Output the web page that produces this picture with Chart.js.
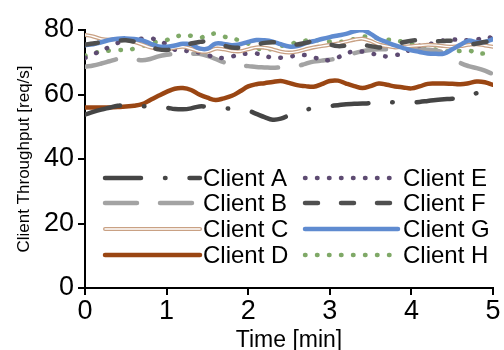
<!DOCTYPE html>
<html>
<head>
<meta charset="utf-8">
<script src="https://cdn.jsdelivr.net/npm/chart.js@4.4.1/dist/chart.umd.min.js"></script>
<style>
  html, body { margin: 0; padding: 0; background: #fff; }
  #wrap { width: 504px; height: 350px; }
</style>
</head>
<body>
<div id="wrap"><canvas id="myChart" width="504" height="350"></canvas></div>
<script>
// Chart data
const minutes = [0, 0.1, 0.2, 0.3, 0.4, 0.5, 0.6, 0.7, 0.8, 0.9,
  1, 1.1, 1.2, 1.3, 1.4, 1.5, 1.6, 1.7, 1.8, 1.9,
  2, 2.1, 2.2, 2.3, 2.4, 2.5, 2.6, 2.7, 2.8, 2.9,
  3, 3.1, 3.2, 3.3, 3.4, 3.5, 3.6, 3.7, 3.8, 3.9,
  4, 4.1, 4.2, 4.3, 4.4, 4.5, 4.6, 4.7, 4.8, 4.9, 5];

const clientA = [53.8, 54.6, 55.3, 55.9, 56.5, 56.7, 56.6, 56.4, 56.2, 56.0,
  55.9, 55.5, 55.4, 55.7, 56.3, 56.2, 55.9, 55.7, 55.6, 55.5,
  55.0, 54.0, 53.0, 52.2, 52.5, 53.6, 54.8, 55.3, 55.7, 56.0,
  56.4, 56.7, 57.0, 57.1, 57.2, 57.4, 57.9, 57.8, 57.5, 57.4,
  57.5, 57.7, 58.0, 58.3, 58.5, 58.7, 59.0, 59.6, 60.4, 60.5, 60.0];
const clientB = [68.6, 69.0, 69.6, 70.3, 71.0, 71.2, 71.0, 70.6, 71.0, 71.8,
  72.3, 72.6, 72.6, 72.6, 72.6, 72.0, 71.0, 70.0, 69.3, 69.0,
  68.8, 68.5, 68.4, 68.3, 68.4, 68.5, 68.8, 69.5, 70.2, 70.5,
  70.8, 71.2, 72.0, 72.8, 73.4, 73.8, 74.0, 74.0, 74.0, 74.0,
  74.0, 74.0, 73.9, 73.6, 72.9, 71.5, 69.8, 68.8, 68.2, 67.4, 66.3];
const clientC = [78.5, 78.0, 77.2, 77.0, 77.2, 77.0, 76.3, 75.5, 74.6, 74.2,
  74.0, 74.5, 74.8, 74.2, 73.4, 73.3, 74.2, 74.0, 73.5, 73.4,
  74.0, 74.6, 74.5, 74.0, 73.3, 73.0, 73.3, 74.0, 74.6, 75.0,
  75.4, 75.8, 76.4, 77.0, 77.3, 76.6, 75.5, 75.0, 74.6, 74.8,
  75.0, 75.2, 75.4, 75.3, 75.0, 74.8, 75.0, 75.4, 75.6, 75.2, 74.8];
const clientD = [56.0, 56.0, 56.0, 56.0, 56.1, 56.3, 56.5, 57.0, 58.3, 59.6,
  60.8, 61.8, 62.0, 61.4, 60.0, 59.0, 58.3, 58.8, 59.6, 61.0,
  62.5, 63.2, 63.5, 63.9, 64.2, 63.6, 62.9, 62.6, 62.4, 63.2,
  64.2, 64.3, 63.4, 62.6, 62.0, 62.6, 63.4, 63.0, 62.5, 62.2,
  61.9, 62.5, 63.3, 63.4, 63.4, 63.3, 63.2, 63.5, 64.0, 63.8, 63.0];
const clientE = [71.3, 72.5, 73.5, 74.8, 76.0, 76.8, 77.0, 77.3, 77.4, 76.8,
  75.5, 73.9, 73.6, 73.4, 73.0, 72.2, 71.6, 71.3, 71.8, 72.4,
  72.7, 72.7, 72.0, 71.4, 71.4, 71.7, 72.1, 72.2, 71.6, 70.7,
  70.7, 71.5, 72.8, 73.3, 73.3, 72.8, 72.2, 71.8, 72.2, 72.7,
  74.2, 75.1, 75.5, 76.1, 76.8, 77.0, 77.0, 76.8, 77.0, 77.8, 77.5];
const clientF = [75.5, 75.8, 76.2, 76.5, 76.7, 76.8, 76.4, 75.6, 74.8, 74.0,
  73.8, 74.2, 75.0, 75.8, 76.3, 76.5, 76.2, 75.2, 74.6, 74.5,
  74.8, 75.4, 76.0, 76.2, 76.0, 75.6, 75.5, 76.0, 76.6, 76.6,
  75.6, 75.0, 75.2, 75.6, 75.4, 75.0, 74.6, 74.6, 75.2, 76.2,
  76.7, 76.8, 76.6, 76.5, 76.6, 76.6, 76.0, 75.6, 75.8, 76.3, 76.5];
const clientG = [75.3, 75.6, 76.2, 76.9, 77.3, 77.4, 77.2, 76.8, 75.8, 74.9,
  74.8, 75.2, 75.7, 75.6, 74.3, 74.2, 75.8, 75.7, 75.3, 75.6,
  76.3, 76.9, 76.8, 76.4, 75.6, 74.9, 75.0, 75.9, 76.5, 77.2,
  77.8, 78.3, 78.8, 79.6, 80.0, 78.8, 77.2, 76.2, 75.2, 74.4,
  73.7, 73.2, 72.7, 72.6, 72.7, 74.0, 75.4, 76.7, 76.2, 76.3, 77.2];
const clientH = [72.0, 72.8, 73.3, 73.6, 73.8, 73.8, 74.2, 75.0, 75.8, 76.5,
  76.9, 77.8, 78.4, 78.2, 77.6, 78.3, 78.9, 78.0, 77.3, 76.8,
  75.8, 74.5, 73.8, 74.2, 75.0, 75.6, 76.2, 76.7, 76.9, 76.7,
  76.4, 76.3, 76.6, 77.2, 77.9, 77.8, 77.4, 77.0, 76.8, 76.3,
  75.6, 75.0, 74.4, 73.9, 73.5, 73.3, 73.5, 73.7, 72.8, 72.7, 72.8];

const xTicks = [0, 1, 2, 3, 4, 5];
const yTicks = [0, 20, 40, 60, 80];

const FONT = "'Liberation Sans', Arial, Helvetica, sans-serif";

function pts(arr) {
  return minutes.map((m, i) => ({ x: m, y: arr[i] }));
}

function series(label, arr, color, width, dash, order, extra) {
  return Object.assign({
    type: 'line',
    label: label,
    data: pts(arr),
    borderColor: color,
    borderWidth: width,
    borderDash: dash,
    borderCapStyle: 'round',
    borderJoinStyle: 'round',
    pointRadius: 0,
    tension: 0.4,
    fill: false,
    order: order,
  }, extra || {});
}

const datasets = [
  series('Client A', clientA, '#454545', 4.5, [36, 24, 0.5, 24], 5),
  series('Client B', clientB, '#a3a3a3', 4.5, [32, 23], 8),
  series('Client C', clientC, '#c9a184', 4, [], 4),
  series('Client C inner', clientC, '#ffffff', 1.4, [], 3, { legendSkip: true }),
  series('Client D', clientD, '#9a4613', 4.5, [], 6),
  series('Client E', clientE, '#5e4b72', 4.5, [0.5, 11.5], 7),
  series('Client F', clientF, '#4f4f4f', 4.5, [13, 23], 1),
  series('Client G', clientG, '#5f8bd0', 4.5, [], 2),
  series('Client H', clientH, '#7fa967', 4.5, [0.5, 11.5], 9),
];

// legend drawn inside the plot area, two columns
const legendPlugin = {
  id: 'insideLegend',
  afterDraw(chart) {
    const c = chart.ctx;
    const cols = [{ x0: 105, x1: 200, tx: 203 }, { x0: 305, x1: 398, tx: 403 }];
    const rows = [178, 203, 229, 255];
    const items = chart.data.datasets.filter(d => !d.legendSkip);
    items.forEach((ds, i) => {
      const col = cols[Math.floor(i / 4)];
      const y = rows[i % 4];
      c.save();
      c.lineCap = 'round';
      c.strokeStyle = ds.borderColor;
      c.lineWidth = ds.borderWidth;
      c.setLineDash(ds.borderDash);
      c.beginPath();
      c.moveTo(col.x0, y);
      c.lineTo(col.x1, y);
      c.stroke();
      if (ds.label === 'Client C') {
        c.strokeStyle = '#ffffff';
        c.lineWidth = 1.4;
        c.beginPath();
        c.moveTo(col.x0, y);
        c.lineTo(col.x1, y);
        c.stroke();
      }
      c.setLineDash([]);
      c.fillStyle = '#000';
      c.font = '24px ' + FONT;
      c.textBaseline = 'middle';
      c.textAlign = 'left';
      c.fillText(ds.label, col.tx, y + 1);
      c.restore();
    });
  }
};

const ctx = document.getElementById('myChart').getContext('2d');
const ThroughputChart = new Chart(ctx, {
  type: 'line',
  data: { datasets: datasets },
  plugins: [legendPlugin],
  options: {
    responsive: false,
    animation: false,
    layout: { padding: { top: 30, right: 11, left: 0, bottom: 0 } },
    plugins: { legend: { display: false }, tooltip: { enabled: false } },
    scales: {
      x: {
        type: 'linear',
        min: 0,
        max: 5,
        afterBuildTicks: s => { s.ticks = xTicks.map(v => ({ value: v })); },
        afterFit: s => { s.height = 62; },
        ticks: { color: '#000', font: { family: FONT, size: 27 }, padding: 0, maxRotation: 0 },
        grid: { display: true, drawOnChartArea: false, drawTicks: true, tickLength: 7, color: '#000', lineWidth: 2 },
        border: { display: true, color: '#000', width: 2 },
        title: { display: true, text: 'Time [min]', color: '#000', font: { family: FONT, size: 23 }, padding: { top: 0, bottom: -4 } },
      },
      y: {
        min: 0,
        max: 80,
        afterBuildTicks: s => { s.ticks = yTicks.map(v => ({ value: v })); },
        afterFit: s => { s.width = 85; },
        ticks: { color: '#000', font: { family: FONT, size: 27 }, padding: 4 },
        grid: { display: true, drawOnChartArea: false, drawTicks: true, tickLength: 7, color: '#000', lineWidth: 2 },
        border: { display: true, color: '#000', width: 2 },
        title: { display: true, text: 'Client Throughput [req/s]', color: '#000', font: { family: FONT, size: 17 }, padding: { top: 14, bottom: 0 } },
      },
    },
  },
});
</script>
</body>
</html>
